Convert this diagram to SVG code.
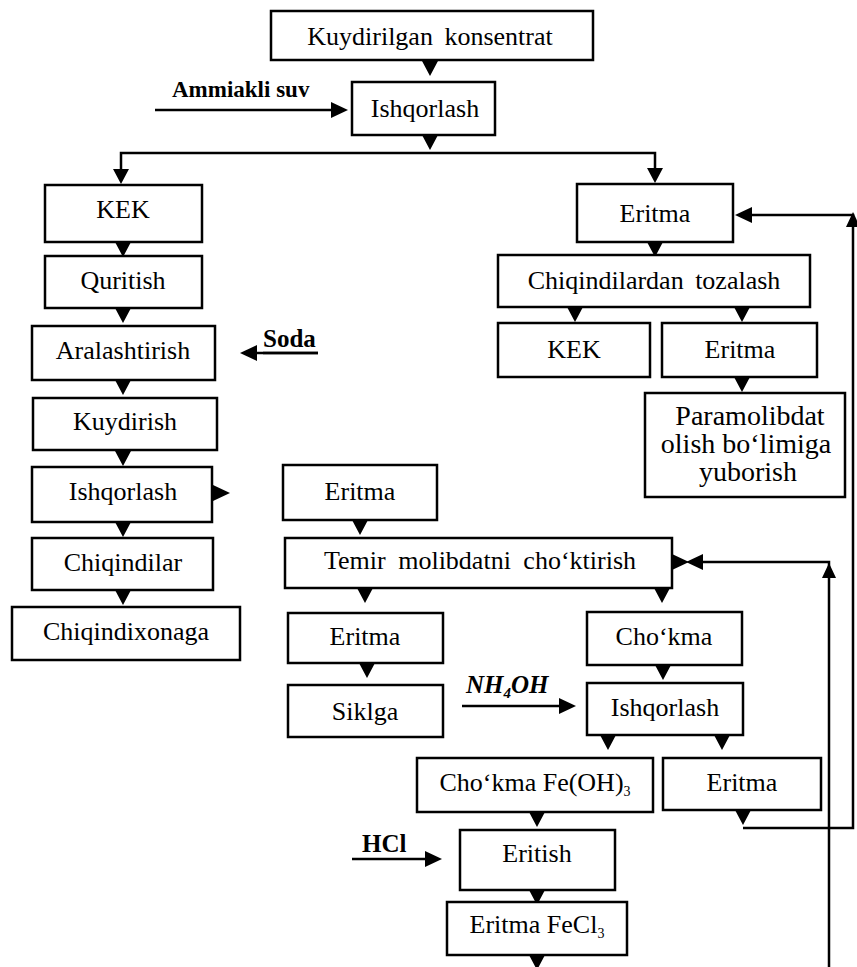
<svg xmlns="http://www.w3.org/2000/svg" width="857" height="967" viewBox="0 0 857 967">
<style>
rect.b{fill:#fff;stroke:#000;stroke-width:2.5}
text{font-family:"Liberation Serif","Times New Roman",serif;font-size:26px;fill:#000;text-anchor:middle}
text.lb{font-weight:bold;text-anchor:start;font-size:25px}
text.pm{font-size:28px}
.ln{fill:none;stroke:#000;stroke-width:2.5}
.tri{fill:#000}
</style>
<defs>
<path id="td" d="M-8,0 L8,0 L0,15 Z"/>
<path id="tr" d="M0,-8 L0,8 L17,0 Z"/>
<path id="tl" d="M0,-8 L0,8 L-17,0 Z"/>
<path id="tu" d="M-7,0 L7,0 L0,-15 Z"/>
</defs>
<rect width="857" height="967" fill="#fff"/>

<g id="connectors">
<use href="#td" class="tri" x="430" y="61"/>
<use href="#td" class="tri" x="430" y="135"/>
<polyline class="ln" points="121,171 121,153 655,153 655,170"/>
<use href="#td" class="tri" x="121" y="169"/>
<use href="#td" class="tri" x="655" y="168"/>
<line class="ln" x1="155" y1="110" x2="334" y2="110"/>
<use href="#tr" class="tri" x="331" y="110"/>
<use href="#td" class="tri" x="123" y="242"/>
<use href="#td" class="tri" x="123" y="308"/>
<use href="#td" class="tri" x="123" y="380"/>
<use href="#td" class="tri" x="123" y="451"/>
<use href="#td" class="tri" x="123" y="522"/>
<use href="#td" class="tri" x="123" y="590"/>
<use href="#tr" class="tri" x="213" y="493"/>
<line class="ln" x1="255" y1="353" x2="318" y2="353"/>
<use href="#tl" class="tri" x="257" y="353"/>
<use href="#td" class="tri" x="655" y="242"/>
<use href="#td" class="tri" x="575" y="307"/>
<use href="#td" class="tri" x="742" y="307"/>
<use href="#td" class="tri" x="742" y="377"/>
<use href="#td" class="tri" x="360" y="520"/>
<use href="#td" class="tri" x="365" y="588"/>
<use href="#td" class="tri" x="662" y="588"/>
<use href="#td" class="tri" x="367" y="663"/>
<use href="#td" class="tri" x="663" y="665"/>
<line class="ln" x1="462" y1="706" x2="562" y2="706"/>
<use href="#tr" class="tri" x="559" y="706"/>
<use href="#td" class="tri" x="608" y="735"/>
<use href="#td" class="tri" x="722" y="735"/>
<use href="#td" class="tri" x="537" y="812"/>
<line class="ln" x1="352" y1="859" x2="428" y2="859"/>
<use href="#tr" class="tri" x="425" y="859"/>
<use href="#td" class="tri" x="537" y="890"/>
<use href="#td" class="tri" x="537" y="955"/>
<use href="#td" class="tri" x="743" y="810"/>
<polyline class="ln" points="743,828 853,828 853,215 750,215"/>
<use href="#tl" class="tri" x="752" y="215"/>
<use href="#tu" class="tri" x="853" y="227"/>
<polyline class="ln" points="829,967 829,562 700,562"/>
<use href="#tr" class="tri" x="672" y="562"/>
<use href="#tl" class="tri" x="703" y="562"/>
<use href="#tu" class="tri" x="829" y="578"/>
</g>

<g id="labels">
<text class="lb" x="172" y="97" style="font-size:23px">Ammiakli suv</text>
<text class="lb" x="263" y="347">Soda</text>
<line class="ln" x1="263" y1="353" x2="318" y2="353"/>
<text class="lb" x="466" y="693" font-style="italic">NH<tspan font-size="15" dy="5">4</tspan><tspan dy="-5">OH</tspan></text>
<text class="lb" x="362" y="852">HCl</text>
</g>

<g id="n-top"><rect class="b" x="271" y="11" width="322" height="49"/><text x="430" y="45" word-spacing="5">Kuydirilgan konsentrat</text></g>
<g id="n-ishq1"><rect class="b" x="352" y="82" width="143" height="53"/><text x="425" y="117">Ishqorlash</text></g>

<g id="n-kek-l"><rect class="b" x="45" y="185" width="157" height="57"/><text x="123" y="218">KEK</text></g>
<g id="n-quritish"><rect class="b" x="45" y="256" width="157" height="52"/><text x="123" y="289">Quritish</text></g>
<g id="n-aralash"><rect class="b" x="32" y="326" width="183" height="54"/><text x="123" y="359">Aralashtirish</text></g>
<g id="n-kuydirish"><rect class="b" x="33" y="398" width="184" height="52"/><text x="125" y="430">Kuydirish</text></g>
<g id="n-ishq-l"><rect class="b" x="32" y="467" width="180" height="55"/><text x="123" y="500">Ishqorlash</text></g>
<g id="n-chiqindilar"><rect class="b" x="32" y="538" width="181" height="52"/><text x="123" y="571">Chiqindilar</text></g>
<g id="n-chiqindixonaga"><rect class="b" x="12" y="607" width="228" height="53"/><text x="126" y="640">Chiqindixonaga</text></g>

<g id="n-eritma-r1"><rect class="b" x="577" y="184" width="156" height="58"/><text x="655" y="222">Eritma</text></g>
<g id="n-tozalash"><rect class="b" x="498" y="255" width="312" height="52"/><text x="654" y="289" word-spacing="5">Chiqindilardan tozalash</text></g>
<g id="n-kek-r"><rect class="b" x="498" y="323" width="152" height="54"/><text x="574" y="358">KEK</text></g>
<g id="n-eritma-r2"><rect class="b" x="662" y="323" width="155" height="54"/><text x="740" y="358">Eritma</text></g>
<g id="n-paramol"><rect class="b" x="645" y="393" width="200" height="104"/><text class="pm" x="750" y="425">Paramolibdat</text><text class="pm" x="746" y="453">olish bo‘limiga</text><text class="pm" x="748" y="481">yuborish</text></g>

<g id="n-eritma-m1"><rect class="b" x="283" y="465" width="154" height="55"/><text x="360" y="500">Eritma</text></g>
<g id="n-temir"><rect class="b" x="285" y="538" width="387" height="50"/><text x="480" y="569" word-spacing="6">Temir molibdatni cho‘ktirish</text></g>
<g id="n-eritma-m2"><rect class="b" x="288" y="613" width="155" height="50"/><text x="365" y="645">Eritma</text></g>
<g id="n-siklga"><rect class="b" x="288" y="685" width="155" height="52"/><text x="365" y="720">Siklga</text></g>
<g id="n-chokma"><rect class="b" x="587" y="612" width="155" height="53"/><text x="664" y="645">Cho‘kma</text></g>
<g id="n-ishq-m"><rect class="b" x="587" y="683" width="156" height="52"/><text x="665" y="716">Ishqorlash</text></g>
<g id="n-feoh"><rect class="b" x="417" y="758" width="236" height="54"/><text x="535" y="791">Cho‘kma Fe(OH)<tspan font-size="14" dy="5">3</tspan></text></g>
<g id="n-eritma-lr"><rect class="b" x="663" y="758" width="158" height="52"/><text x="742" y="791">Eritma</text></g>
<g id="n-eritish"><rect class="b" x="460" y="830" width="155" height="60"/><text x="537" y="862">Eritish</text></g>
<g id="n-fecl"><rect class="b" x="447" y="902" width="180" height="53"/><text x="537" y="933">Eritma FeCl<tspan font-size="14" dy="5">3</tspan></text></g>
</svg>
